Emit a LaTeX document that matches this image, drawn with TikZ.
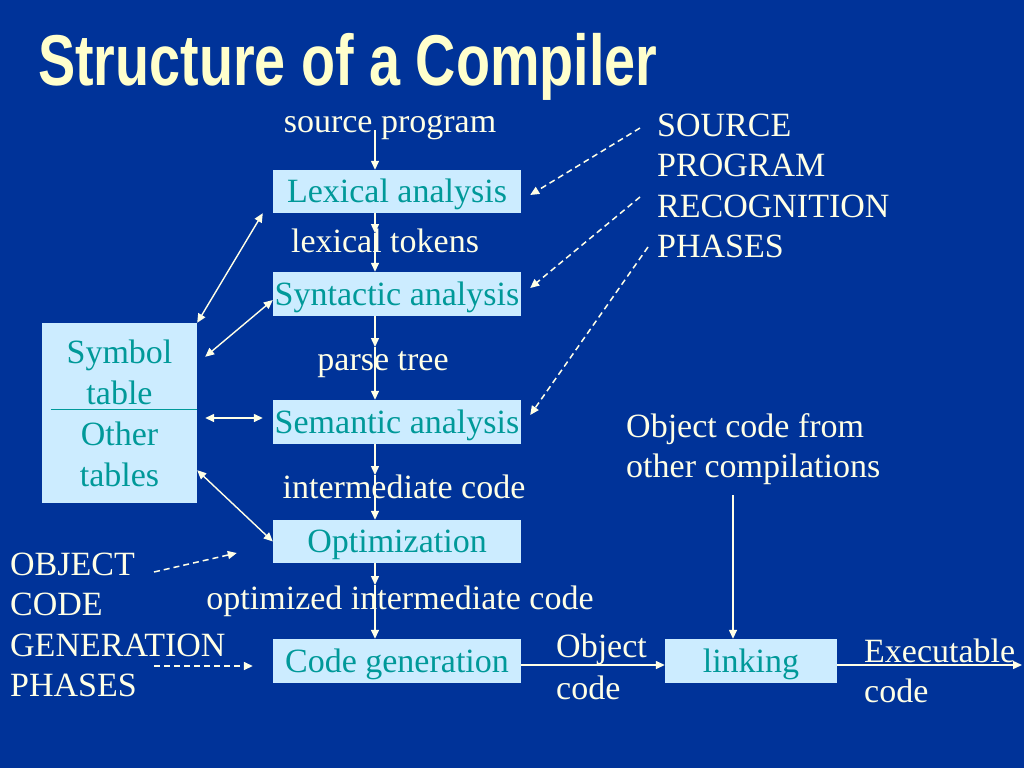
\documentclass[tikz,border=0pt]{standalone}
\usepackage{fontspec}
\usepackage{graphicx}
\setmainfont{Liberation Serif}
\newfontfamily\titlefont{Liberation Sans}
\usetikzlibrary{arrows.meta,calc}
\definecolor{bgblue}{RGB}{0,51,153}
\definecolor{boxblue}{RGB}{204,236,255}
\definecolor{tealtext}{RGB}{0,153,153}
\definecolor{cream}{RGB}{255,255,230}
\definecolor{titlecol}{RGB}{255,255,204}
\tikzset{
  x=1pt, y=-1pt,
  phase/.style={fill=boxblue, text=tealtext, inner sep=0pt, minimum width=248pt,
    minimum height=44pt, text height=24pt, text depth=2pt,
    font=\fontsize{34}{40}\selectfont},
  lbl/.style={text=cream, inner sep=0pt, font=\fontsize{34}{40}\selectfont},
  mlbl/.style={text=cream, inner sep=0pt, align=left, anchor=west},
  arr/.style={draw=cream, line width=1.4pt, -{Triangle[length=9pt,width=8pt]}},
  darr/.style={draw=cream, line width=1.4pt, {Triangle[length=9pt,width=8pt]}-{Triangle[length=9pt,width=8pt]}},
  dsh/.style={draw=cream, line width=1.5pt, dash pattern=on 6pt off 4pt, -{Triangle[length=9pt,width=8pt]}}
}
\begin{document}
\begin{tikzpicture}
\useasboundingbox (0,0) rectangle (1024,768);
\fill[bgblue] (0,0) rectangle (1024,768);

% title
\node[anchor=base west, inner sep=0pt, text=titlecol] (title) at (38,85)
  {\scalebox{0.774}[1]{\titlefont\bfseries\fontsize{72}{72}\selectfont Structure of a Compiler}};

% phase boxes
\node[phase, minimum height=43pt] (lex) at (397,191.5) {Lexical analysis};
\node[phase] (syn) at (397,294) {Syntactic analysis};
\node[phase] (sem) at (397,422) {Semantic analysis};
\node[phase, minimum height=43pt] (opt) at (397,541.5) {Optimization};
\node[phase] (cg) at (397,661) {Code generation};
\node[phase, minimum width=172pt] (link) at (751,661) {linking};

% symbol table
\node[fill=boxblue, text=tealtext, inner sep=0pt, minimum width=155pt, minimum height=180pt,
  align=center, font=\fontsize{34}{41}\selectfont] (sym) at (119.5,413)
  {Symbol\\table\\Other\\tables};
\draw[tealtext, line width=1pt] ($(sym.west)+(9,-4)$) -- ($(sym.east)+(0,-4)$);

% labels on the main flow
\node[lbl, anchor=base] (src) at (390,132) {source program};
\node[lbl, anchor=base] (tok) at (385,252) {lexical tokens};
\node[lbl, anchor=base] (tree) at (383,370) {parse tree};
\node[lbl, anchor=base] (ic) at (404,498) {intermediate code};
\node[lbl, anchor=base] (oic) at (400,609) {optimized intermediate code};

% side labels
\node[mlbl, font=\fontsize{34}{40.4}\selectfont] (recog) at (657,186)
  {SOURCE\\PROGRAM\\RECOGNITION\\PHASES};
\node[mlbl, font=\fontsize{34}{40.4}\selectfont] (gen) at (10,625)
  {OBJECT\\CODE\\GENERATION\\PHASES};
\node[mlbl, font=\fontsize{34}{40}\selectfont] (other) at (626,449)
  {Object code from\\other compilations};
\node[mlbl, font=\fontsize{34}{42}\selectfont] (objc) at (556,667)
  {Object\\code};
\node[mlbl, font=\fontsize{34}{40}\selectfont] (exe) at (864,671)
  {Executable\\code};

% coordinates on the main flow
\coordinate (m0) at (375,130);
\coordinate (m1) at (375,233);
\coordinate (m2) at (375,347);
\coordinate (m3) at (375,475);
\coordinate (m4) at (375,585);
\coordinate (ocf) at (733,495);
\coordinate (out) at (1022,665);
\coordinate (r1) at (640,128);
\coordinate (r2) at (640,197);
\coordinate (r3) at (648,247);
\coordinate (g1) at (154,572);
\coordinate (g2) at (154,666);

% main flow arrows
\draw[arr] (m0) -- (lex.north -| m0);
\draw[arr] (lex.south -| m1) -- (m1);
\draw[arr] (m1) -- (syn.north -| m1);
\draw[arr] (syn.south -| m2) -- (m2);
\draw[arr] (m2) -- (sem.north -| m2);
\draw[arr] (sem.south -| m3) -- (m3);
\draw[arr] (m3) -- (opt.north -| m3);
\draw[arr] (opt.south -| m4) -- (m4);
\draw[arr] (m4) -- (cg.north -| m4);

% code generation -> linking -> executable
\draw[arr] ($(cg.east)+(0,4)$) -- ($(link.west)+(0,4)$);
\draw[arr] ($(link.east)+(0,4)$) -- (out);
\draw[arr] (ocf) -- (link.north -| ocf);

% symbol table double arrows
\draw[darr] (sym.north east) -- ($(lex.south west)+(-10,0)$);
\draw[darr] ($(sym.north east)+(8,34)$) -- ($(syn.west)+(0,6)$);
\draw[darr] ($(sym.east)+(8,5)$) -- ($(sem.west)+(-10,-4)$);
\draw[darr] ($(sym.south east)+(0,-33)$) -- (opt.west);

% dashed pointers
\draw[dsh] (r1) -- ($(lex.east)+(9,3.5)$);
\draw[dsh] (r2) -- ($(syn.east)+(9,-6)$);
\draw[dsh] (r3) -- ($(sem.east)+(9,-7)$);
\draw[dsh] (g1) -- ($(opt.west)+(-36,11.5)$);
\draw[dsh] (g2) -- ($(cg.west)+(-20,5)$);
\end{tikzpicture}
\end{document}
